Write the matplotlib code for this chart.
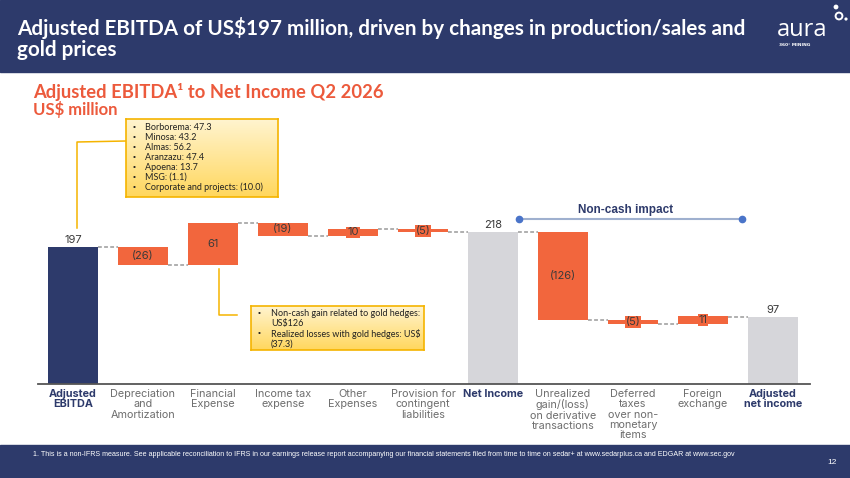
import matplotlib
matplotlib.use("Agg")
import matplotlib.pyplot as plt
import numpy as np
from matplotlib.patches import Rectangle, Circle
from matplotlib.colors import LinearSegmentedColormap

# ---------------- data ----------------
categories = ["Adjusted\nEBITDA", "Depreciation\nand\nAmortization", "Financial\nExpense",
              "Income tax\nexpense", "Other\nExpenses", "Provision for\ncontingent\nliabilities",
              "Net Income", "Unrealized\ngain/(loss)\non derivative\ntransactions",
              "Deferred\ntaxes\nover non-\nmonetary\nitems", "Foreign\nexchange", "Adjusted\nnet income"]
values = [197, -26, 61, -19, 10, -5, 218, -126, -5, 11, 97]
kinds = ["total", "delta", "delta", "delta", "delta", "delta", "total", "delta", "delta", "delta", "total"]
total_colors = ["#2d3a6b", None, None, None, None, None, "#d6d6da", None, None, None, "#d6d6da"]
segment_lines = ["Borborema: 47.3", "Minosa: 43.2", "Almas: 56.2", "Aranzazu: 47.4",
                 "Apoena: 13.7", "MSG: (1.1)", "Corporate and projects: (10.0)"]
hedge_lines = [["Non-cash gain related to gold hedges:", "US$126"],
               ["Realized losses with gold hedges: US$", "(37.3)"]]

NAVY = "#2d3a6b"
ORANGE = "#f2663d"
TITLE_OR = "#ec5a3c"
GOLD = "#f5b400"

W, H = 850, 478
fig = plt.figure(figsize=(8.5, 4.78), dpi=100)

def fx(x): return x / W
def fy(y): return 1 - y / H

# background bands
bg = fig.add_axes([0, 0, 1, 1], zorder=-5)
bg.set_xlim(0, W); bg.set_ylim(H, 0); bg.axis("off")
bg.add_patch(Rectangle((0, 0), W, 72, color=NAVY))
bg.add_patch(Rectangle((0, 445), W, 33, color=NAVY))

# header title
fig.text(fx(17), fy(28), "Adjusted EBITDA of US$197 million, driven by changes in production/sales and",
         color="white", fontsize=14.85, fontweight="bold", family="Lato", va="center", ha="left")
fig.text(fx(17), fy(50), "gold prices", color="white", fontsize=14.85, fontweight="bold",
         family="Lato", va="center", ha="left")
# logo
fig.text(fx(777), fy(30), "aura", color="white", fontsize=17, family="Open Sans", va="center", ha="left")
fig.text(fx(779), fy(45), "360° MINING", color="white", fontsize=3.2, family="DejaVu Sans",
         fontweight="bold", va="center", ha="left")
bg.add_patch(Circle((839, 16), 3.4, fill=False, ec="white", lw=1.4))
bg.add_patch(Circle((836, 7), 1.7, color="white"))
bg.add_patch(Circle((846, 19), 0.9, color="white"))

# subtitle
fig.text(fx(33), fy(92), "Adjusted EBITDA¹ to Net Income Q2 2026", color=TITLE_OR, fontsize=13.2,
         fontweight="bold", family="Lato", va="center", ha="left")
fig.text(fx(33), fy(110), "US$ million", color=TITLE_OR, fontsize=12,
         fontweight="bold", family="Lato", va="center", ha="left")

# footer
fig.text(fx(33), fy(454), "1. This is a non-IFRS measure. See applicable reconciliation to IFRS in our earnings release report "
         "accompanying our financial statements filed from time to time on sedar+ at www.sedarplus.ca and EDGAR at www.sec.gov",
         color="white", fontsize=5.1, family="Liberation Sans", va="center", ha="left")
fig.text(fx(832), fy(462), "12", color="white", fontsize=6, family="Liberation Sans", va="center", ha="center")

# ---------------- waterfall ----------------
ax_bottom_px, ax_top_px = 384, 150
ax = fig.add_axes([fx(38), fy(ax_bottom_px), fx(810 - 38), (ax_bottom_px - ax_top_px) / H])
ax.set_xlim(-0.5, 10.53)
ax.set_ylim(0, (ax_bottom_px - ax_top_px) / 0.695)
for s in ["top", "right", "left"]:
    ax.spines[s].set_visible(False)
ax.spines["bottom"].set_color("#555555")
ax.spines["bottom"].set_linewidth(1.3)
ax.set_xticks([]); ax.set_yticks([])
ax.patch.set_alpha(0)

bw = 0.714
running = 0
levels = []
for i, (v, k) in enumerate(zip(values, kinds)):
    if k == "total":
        ax.bar(i, v, width=bw, color=total_colors[i], zorder=2)
        running = v
        ax.annotate(f"{v}", (i, v), xytext=(0, 1.5), textcoords="offset points", ha="center", va="bottom",
                    fontsize=8, color="#3a3a3a", family="Inter")
    else:
        bottom = running if v > 0 else running + v
        ax.bar(i, abs(v), bottom=bottom, width=bw, color=ORANGE, zorder=2)
        lab = f"{v}" if v > 0 else f"({-v})"
        ax.text(i, bottom + abs(v) / 2, lab, ha="center", va="center", fontsize=8, color="#3a3a3a",
                family="Inter", zorder=4,
                bbox=dict(boxstyle="square,pad=0.08", fc=ORANGE, ec="none"))
        running += v
    levels.append(running)

for i in range(len(values) - 1):
    lvl = levels[i]
    if kinds[i + 1] == "total":
        lvl = values[i + 1]
    ax.plot([i + bw / 2, i + 1 - bw / 2], [lvl, lvl], color="#9a9a9a", lw=1.1, ls=(0, (2.5, 1.5)), zorder=1)

# category labels
for i, c in enumerate(categories):
    bold = kinds[i] == "total"
    ax.annotate(c, (i, 0), xycoords=("data", "axes fraction"), xytext=(0, -3.5), textcoords="offset points",
                ha="center", va="top", fontsize=7.8, linespacing=1.05, family="Inter",
                color=NAVY if bold else "#6e6e6e", fontweight="bold" if bold else "normal")

# non-cash impact bracket
ov = fig.add_axes([0, 0, 1, 1], zorder=10)
ov.set_xlim(0, W); ov.set_ylim(H, 0); ov.axis("off")
ov.plot([519, 742], [219, 219], color="#9fb0cf", lw=1.5, zorder=1)
ov.plot([519, 742], [219, 219], "o", color="#4a74c9", ms=4.5, zorder=2)
ov.text(626, 210, "Non-cash impact", color=NAVY, fontsize=8.5, fontweight="bold",
        family="Liberation Sans", ha="center", va="center")

# connector lines for callouts
ov.plot([126, 77, 77], [141, 142, 228], color=GOLD, lw=1.1)
ov.plot([219, 219, 237], [269, 315, 315], color=GOLD, lw=1.1)

# gradient boxes
grad = np.linspace(0, 1, 100).reshape(-1, 1)
cmap = LinearSegmentedColormap.from_list("g", ["#fff4cf", "#ffd75e"])

def gbox(x0, y0, x1, y1):
    a = fig.add_axes([fx(x0), fy(y1), fx(x1 - x0), (y1 - y0) / H], zorder=11)
    a.imshow(grad, aspect="auto", cmap=cmap, extent=[0, 1, 0, 1], origin="upper")
    a.set_xticks([]); a.set_yticks([])
    for s in a.spines.values():
        s.set_color(GOLD); s.set_linewidth(1.2)
    return a

gbox(126, 119, 278, 197)
gbox(251, 306, 424, 350)
ov2 = fig.add_axes([0, 0, 1, 1], zorder=12)
ov2.set_xlim(0, W); ov2.set_ylim(H, 0); ov2.axis("off")
for j, t in enumerate(segment_lines):
    y = 127 + j * 10.0
    ov2.text(133, y, "•", fontsize=6, family="Liberation Sans", va="center", color="#222")
    ov2.text(145, y, t, fontsize=6.5, family="Lato", va="center", color="#222")

for j, pair in enumerate(hedge_lines):
    y = 313 + j * 21
    ov2.text(258, y, "•", fontsize=6, family="Liberation Sans", va="center", color="#222")
    for k, line in enumerate(pair):
        ov2.text(271, y + k * 10.5, line, fontsize=6.5, family="Lato", va="center", color="#222")

fig.savefig("out.png", dpi=100)
